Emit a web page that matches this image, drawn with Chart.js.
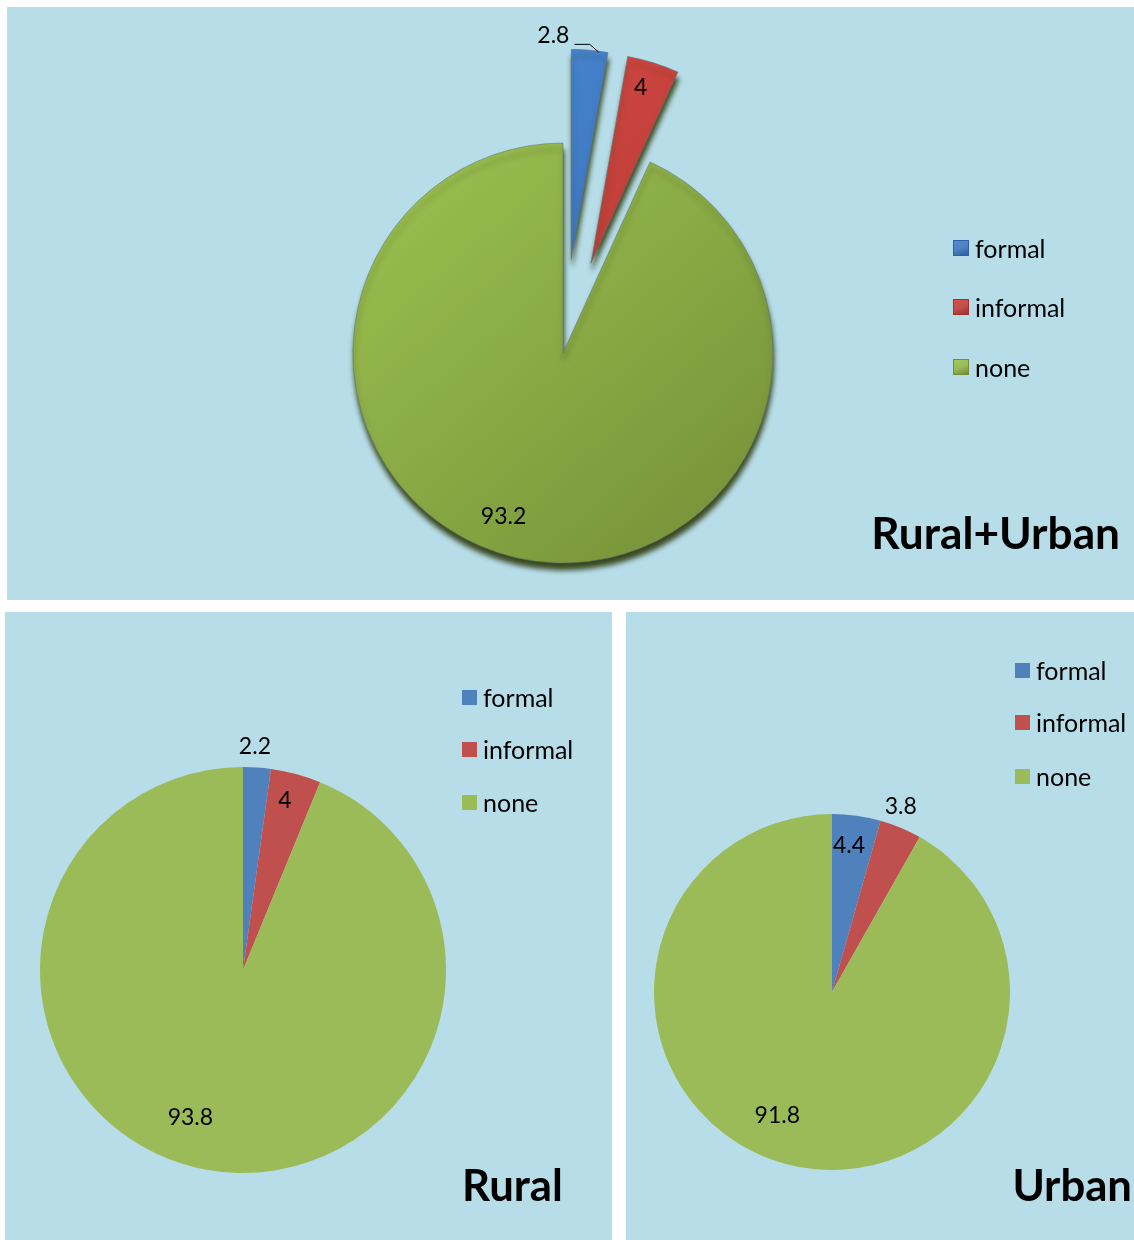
<!DOCTYPE html>
<html>
<head>
<meta charset="utf-8">
<script src="https://cdn.jsdelivr.net/npm/chart.js@4.4.1/dist/chart.umd.min.js"></script>
<style>
    body { margin: 0; background: #fff; width: 1134px; height: 1240px; position: relative; overflow: hidden; font-family: Lato, 'Open Sans', sans-serif; }
    .panel { position: absolute; background: #b7dde8; overflow: hidden; }
    .panel canvas { position: absolute; left: 0; top: 0; }
    .legend-item { position: absolute; height: 30px; display: flex; align-items: center; white-space: nowrap; font-size: 25px; color: #000; }
    .legend-color-box { margin-right: 6px; box-sizing: border-box; }
    .title { position: absolute; font-weight: 700; line-height: 1; color: #000; white-space: nowrap; }
</style>
</head>
<body>

<div class="panel" style="left:7px;top:7px;width:1127px;height:593px">
    <canvas id="chart-total" width="1127" height="593"></canvas>
    <div id="legend-total"></div>
    <div class="title" style="right:14px;top:503px;font-size:44.2px">Rural+Urban</div>
</div>

<div class="panel" style="left:5px;top:612px;width:607px;height:628px">
    <canvas id="chart-rural" width="607" height="628"></canvas>
    <div id="legend-rural"></div>
    <div class="title" style="left:457px;top:551px;font-size:43.7px">Rural</div>
</div>

<div class="panel" style="left:626px;top:612px;width:508px;height:628px">
    <canvas id="chart-urban" width="508" height="628"></canvas>
    <div id="legend-urban"></div>
    <div class="title" style="right:2px;top:551px;font-size:43.7px">Urban</div>
</div>

<script>
// --- Data ---
const categories = ['formal', 'informal', 'none'];
const totalValues = [2.8, 4, 93.2];
const ruralValues = [2.2, 4, 93.8];
const urbanValues = [4.4, 3.8, 91.8];

const sliceColors = ['#4f81bd', '#c0504d', '#9bbb59'];
// light / dark stops for the 3D-looking top chart
const gradientStops = [['#4c8bd8', '#2d5fa2'], ['#dc4d47', '#a32f2b'], ['#a3c955', '#718d35']];

Chart.defaults.font.family = 'Lato, "Open Sans", sans-serif';

// pulls the chosen slices away from the centre (Excel style explosion)
const explodePlugin = {
    id: 'explode',
    afterUpdate(chart, args, opts) {
        const dist = opts.dist || [];
        chart.getDatasetMeta(0).data.forEach((arc, i) => {
            const d = dist[i] || 0;
            if (!d) return;
            const mid = (arc.startAngle + arc.endAngle) / 2;
            arc.x += Math.cos(mid) * d;
            arc.y += Math.sin(mid) * d;
        });
    }
};

// drop shadow that gives the top pie its thick bottom edge
const depthPlugin = {
    id: 'depth',
    beforeDatasetDraw(chart, args, opts) {
        if (!opts.on) return;
        const ctx = chart.ctx;
        ctx.save();
        ctx.shadowColor = 'rgba(52, 66, 22, 0.95)';
        ctx.shadowOffsetY = 7;
        ctx.shadowOffsetX = 1;
        ctx.shadowBlur = 5;
    },
    afterDatasetDraw(chart, args, opts) {
        if (opts.on) chart.ctx.restore();
    }
};

// value labels
const sliceLabels = {
    id: 'sliceLabels',
    afterDatasetsDraw(chart, args, opts) {
        const ctx = chart.ctx;
        const values = chart.data.datasets[0].data;
        ctx.save();
        ctx.font = '23px Lato, "Open Sans", sans-serif';
        ctx.fillStyle = '#000';
        ctx.textAlign = 'center';
        ctx.textBaseline = 'middle';
        chart.getDatasetMeta(0).data.forEach((arc, i) => {
            const place = opts.place[i];
            const mid = (arc.startAngle + arc.endAngle) / 2;
            const a = mid + place.shift * Math.PI / 180;
            const d = arc.outerRadius * place.dist;
            const lx = arc.x + Math.cos(a) * d;
            const ly = arc.y + Math.sin(a) * d;
            const text = String(values[i]);
            ctx.fillText(text, lx, ly);
            if (place.leader) {
                const ex = arc.x + Math.cos(mid) * arc.outerRadius;
                const ey = arc.y + Math.sin(mid) * arc.outerRadius;
                const w = ctx.measureText(text).width;
                ctx.beginPath();
                ctx.moveTo(lx + w / 2 + 5, ly + 9);
                ctx.lineTo(ex, ly + 9);
                ctx.lineTo(ex + 9, ey + 2);
                ctx.strokeStyle = '#000';
                ctx.lineWidth = 1;
                ctx.stroke();
            }
        });
        ctx.restore();
    }
};

function gradientColor(context) {
    const chart = context.chart;
    const area = chart.chartArea;
    const i = context.dataIndex;
    if (!area) return sliceColors[i];
    const cx = (area.left + area.right) / 2;
    const cy = (area.top + area.bottom) / 2;
    const r = 230;
    const g = chart.ctx.createLinearGradient(cx - r, cy - r * 1.3, cx + r, cy + r);
    g.addColorStop(0, gradientStops[i][0]);
    g.addColorStop(1, gradientStops[i][1]);
    return g;
}

function makePie(canvasId, values, opts) {
    return new Chart(document.getElementById(canvasId), {
        type: 'pie',
        data: {
            labels: categories,
            datasets: [{
                data: values,
                backgroundColor: opts.gradient ? gradientColor : sliceColors,
                borderWidth: opts.gradient ? 1 : 0,
                borderColor: 'rgba(95, 115, 120, 0.55)'
            }]
        },
        options: {
            responsive: false,
            animation: false,
            radius: opts.radius,
            layout: { padding: opts.padding },
            plugins: {
                legend: { display: false },
                tooltip: { enabled: false },
                explode: { dist: opts.explode || [] },
                depth: { on: !!opts.gradient },
                sliceLabels: { place: opts.labels }
            }
        },
        plugins: [explodePlugin, depthPlugin, sliceLabels]
    });
}

function buildLegend(containerId, x, ys, size, bevel) {
    const legendContainer = document.getElementById(containerId);
    legendContainer.innerHTML = '';
    categories.forEach((name, i) => {
        const item = document.createElement('div');
        item.className = 'legend-item';
        item.style.left = x + 'px';
        item.style.top = (ys[i] - 15) + 'px';
        const bg = bevel
            ? `background: linear-gradient(160deg, ${gradientStops[i][0]} 0%, ${sliceColors[i]} 50%, ${gradientStops[i][1]} 100%); border: 1px solid ${gradientStops[i][1]};`
            : `background: ${sliceColors[i]};`;
        item.innerHTML = `<div class="legend-color-box" style="width:${size}px;height:${size}px;${bg}"></div><span>${name}</span>`;
        legendContainer.appendChild(item);
    });
}

// Rural+Urban (exploded, shaded)
makePie('chart-total', totalValues, {
    radius: 210,
    padding: { left: 0, right: 15, top: 99, bottom: 0 },
    gradient: true,
    explode: [94, 94, 0],
    labels: [
        { dist: 1.07, shift: -9.6, leader: true },
        { dist: 0.87, shift: -1.5 },
        { dist: 0.83, shift: 7.7 }
    ]
});

// Rural
makePie('chart-rural', ruralValues, {
    radius: 203,
    padding: { left: 0, right: 131, top: 88, bottom: 0 },
    labels: [
        { dist: 1.10, shift: -0.9 },
        { dist: 0.86, shift: -1.2 },
        { dist: 0.77, shift: 8.5 }
    ]
});

// Urban
makePie('chart-urban', urbanValues, {
    radius: 178,
    padding: { left: 0, right: 96, top: 132, bottom: 0 },
    labels: [
        { dist: 0.83, shift: -1.3 },
        { dist: 1.11, shift: -2.3 },
        { dist: 0.76, shift: 9.1 }
    ]
});

buildLegend('legend-total', 946, [241, 300, 360], 16, true);
buildLegend('legend-rural', 457, [85, 137, 190], 15, false);
buildLegend('legend-urban', 389, [58, 110, 164], 15, false);
</script>
</body>
</html>
